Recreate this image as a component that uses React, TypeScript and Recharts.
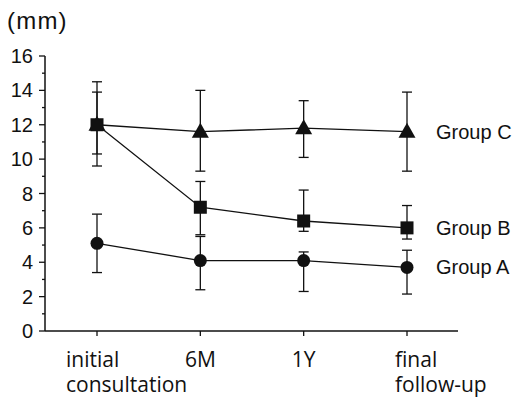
import { LineChart, Line, XAxis, YAxis, ErrorBar, LabelList } from 'recharts';

const categories = ['initial\nconsultation', '6M', '1Y', 'final\nfollow-up'];
const groupNames = ['Group A', 'Group B', 'Group C'];

const groupA = [5.1, 4.1, 4.1, 3.7];
const groupAErr: [number, number][] = [[1.7, 1.7], [1.7, 1.4], [1.8, 0.5], [1.55, 1.0]];

const groupB = [12.0, 7.2, 6.4, 6.0];
const groupBErr: [number, number][] = [[1.7, 1.9], [1.6, 1.5], [0.6, 1.8], [0.65, 1.3]];

const groupC = [12.0, 11.6, 11.8, 11.6];
const groupCErr: [number, number][] = [[2.4, 2.5], [2.3, 2.4], [1.7, 1.6], [2.3, 2.3]];

const yTicks = [0, 1, 2, 3, 4, 5, 6, 7, 8, 9, 10, 11, 12, 13, 14, 15, 16];

const data = categories.map((label, i) => ({
  label,
  a: groupA[i],
  aErr: groupAErr[i],
  b: groupB[i],
  bErr: groupBErr[i],
  c: groupC[i],
  cErr: groupCErr[i],
}));

const numFont = '"Liberation Sans", Arial, sans-serif';
const labelFont = '"Open Sans", sans-serif';

// two-line x labels are left aligned, a bit left of their tick
const xLabelIndent = [31, 0, 0, 12];

function Circle(props: any) {
  const { cx, cy } = props;
  if (cx == null || cy == null) return null;
  return <circle cx={cx} cy={cy} r={6.5} fill="#111" />;
}

function Square(props: any) {
  const { cx, cy } = props;
  if (cx == null || cy == null) return null;
  return <rect x={cx - 6.5} y={cy - 6.5} width={13} height={13} fill="#111" />;
}

function Triangle(props: any) {
  const { cx, cy } = props;
  if (cx == null || cy == null) return null;
  return <path d={`M${cx},${cy - 9} L${cx + 8.5},${cy + 6} L${cx - 8.5},${cy + 6} Z`} fill="#111" />;
}

function YTick(props: any) {
  const { x, y, payload } = props;
  const major = payload.value % 2 === 0;
  return (
    <g>
      <line x1={major ? x : x + 3} x2={x + 6} y1={y} y2={y} stroke="#111" strokeWidth={1.3} />
      {major && (
        <text x={x - 6} y={y} dy={7} textAnchor="end" fontSize={20} fontFamily={numFont} fill="#111">
          {payload.value}
        </text>
      )}
    </g>
  );
}

function XTick(props: any) {
  const { x, y, payload, index } = props;
  const lines = String(payload.value).split('\n');
  const multi = lines.length > 1;
  const tx = multi ? x - xLabelIndent[index] : x;
  return (
    <text x={tx} y={y} textAnchor={multi ? 'start' : 'middle'} fontSize={21} fontFamily={labelFont} fill="#111">
      {lines.map((l, i) => (
        <tspan key={i} x={tx} dy={i === 0 ? 29 : 25}>
          {l}
        </tspan>
      ))}
    </text>
  );
}

function endLabel(name: string) {
  return (props: any) => {
    const { x, y, index } = props;
    if (index !== categories.length - 1) return null;
    return (
      <text x={x + 29} y={y} dy={7} fontSize={20} fontFamily={numFont} fill="#111">
        {name}
      </text>
    );
  };
}

export default function App() {
  return (
    <div style={{ position: 'absolute', left: 0, top: 0, width: 526, height: 398, background: '#fff' }}>
      <div
        style={{
          position: 'absolute',
          left: 7,
          top: 7,
          fontSize: 24,
          letterSpacing: 1.2,
          fontFamily: numFont,
          color: '#111',
        }}
      >
        (mm)
      </div>
      <LineChart width={526} height={398} data={data} margin={{ top: 56, right: 68, bottom: 0, left: 0 }}>
        <XAxis
          dataKey="label"
          padding={{ left: 52, right: 51 }}
          interval={0}
          height={67}
          tickSize={5}
          tick={<XTick />}
          axisLine={{ stroke: '#111', strokeWidth: 1.5 }}
          tickLine={{ stroke: '#111', strokeWidth: 1.3 }}
        />
        <YAxis
          type="number"
          domain={[0, 16]}
          ticks={yTicks}
          interval={0}
          width={45}
          tickSize={6}
          tickMargin={0}
          tickLine={false}
          tick={<YTick />}
          axisLine={{ stroke: '#111', strokeWidth: 1.5 }}
        />
        <Line dataKey="c" stroke="#111" strokeWidth={1.3} dot={<Triangle />} isAnimationActive={false}>
          <ErrorBar dataKey="cErr" width={5} stroke="#111" strokeWidth={1.3} direction="y" />
          <LabelList dataKey="c" content={endLabel(groupNames[2])} />
        </Line>
        <Line dataKey="b" stroke="#111" strokeWidth={1.3} dot={<Square />} isAnimationActive={false}>
          <ErrorBar dataKey="bErr" width={5} stroke="#111" strokeWidth={1.3} direction="y" />
          <LabelList dataKey="b" content={endLabel(groupNames[1])} />
        </Line>
        <Line dataKey="a" stroke="#111" strokeWidth={1.3} dot={<Circle />} isAnimationActive={false}>
          <ErrorBar dataKey="aErr" width={5} stroke="#111" strokeWidth={1.3} direction="y" />
          <LabelList dataKey="a" content={endLabel(groupNames[0])} />
        </Line>
      </LineChart>
    </div>
  );
}
